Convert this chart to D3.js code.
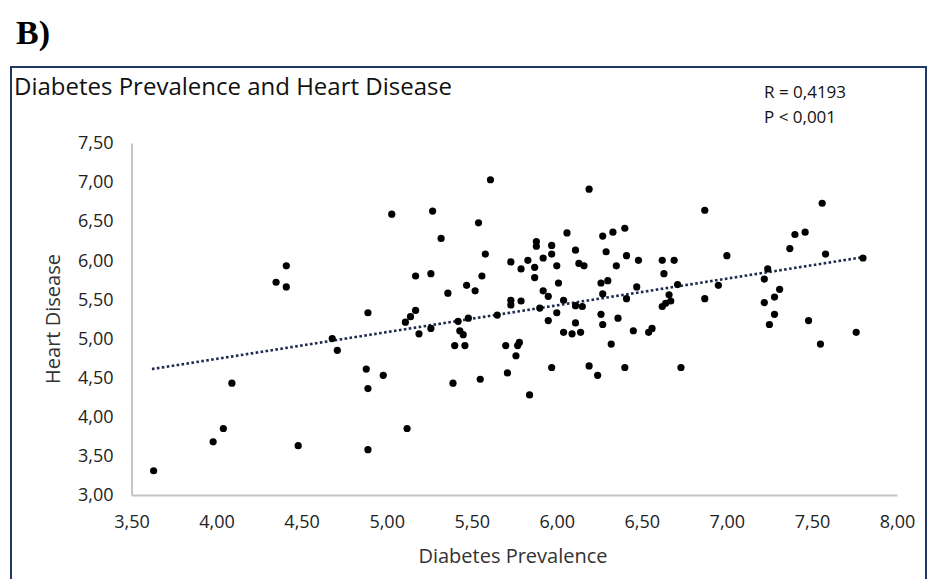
<!DOCTYPE html>
<html>
<head>
<meta charset="utf-8">
<script src="https://cdn.jsdelivr.net/npm/d3@7"></script>
<style>
  html, body { margin: 0; padding: 0; background: #ffffff; }
  svg { display: block; }
  text { font-family: "Open Sans", "Noto Sans", sans-serif; fill: #222; }
</style>
</head>
<body>
<svg id="chart" width="928" height="579"></svg>
<script>
// ---- data ----
const diabetesPrevalence = [
  3.63, 3.98, 4.04, 4.09, 4.48, 4.35, 4.41, 4.41, 4.68, 4.71,
  4.88, 4.89, 4.89, 4.89, 4.98, 5.03, 5.12, 5.11, 5.14, 5.17,
  5.17, 5.19, 5.26, 5.26, 5.27, 5.32, 5.36, 5.39, 5.40, 5.42,
  5.43, 5.45, 5.46, 5.47, 5.48, 5.52, 5.54, 5.55, 5.56, 5.58,
  5.61, 5.65, 5.70, 5.71, 5.73, 5.73, 5.73, 5.76, 5.77, 5.78,
  5.79, 5.79, 5.83, 5.84, 5.87, 5.87, 5.88, 5.88, 5.90, 5.92,
  5.92, 5.95, 5.95, 5.97, 5.97, 5.97, 6.00, 6.00, 6.01, 6.04,
  6.04, 6.06, 6.09, 6.11, 6.11, 6.11, 6.13, 6.14, 6.15, 6.16,
  6.19, 6.19, 6.24, 6.26, 6.26, 6.27, 6.27, 6.27, 6.29, 6.30,
  6.32, 6.33, 6.35, 6.36, 6.40, 6.40, 6.41, 6.41, 6.45, 6.47,
  6.48, 6.54, 6.56, 6.62, 6.62, 6.63, 6.64, 6.66, 6.67, 6.69,
  6.71, 6.73, 6.87, 6.87, 6.95, 7.00, 7.22, 7.22, 7.24, 7.25,
  7.28, 7.28, 7.31, 7.37, 7.40, 7.46, 7.48, 7.55, 7.56, 7.58,
  7.76, 7.80
];
const heartDisease = [
  3.31, 3.68, 3.85, 4.43, 3.63, 5.72, 5.93, 5.66, 5.00, 4.85,
  4.61, 4.36, 3.58, 5.33, 4.53, 6.59, 3.85, 5.21, 5.28, 5.36,
  5.80, 5.06, 5.83, 5.13, 6.63, 6.28, 5.58, 4.43, 4.91, 5.22,
  5.10, 5.05, 4.91, 5.68, 5.26, 5.61, 6.48, 4.48, 5.80, 6.08,
  7.03, 5.30, 4.91, 4.56, 5.98, 5.49, 5.43, 4.78, 4.91, 4.95,
  5.89, 5.48, 6.00, 4.28, 5.91, 5.78, 6.24, 6.18, 5.39, 6.03,
  5.61, 5.54, 5.23, 6.19, 6.08, 4.63, 5.93, 5.33, 5.71, 5.49,
  5.08, 6.35, 5.06, 6.13, 5.42, 5.20, 5.96, 5.08, 5.41, 5.93,
  6.91, 4.65, 4.53, 5.71, 5.31, 6.31, 5.57, 5.18, 6.11, 5.74,
  4.93, 6.36, 5.93, 5.26, 6.41, 4.63, 6.06, 5.51, 5.10, 5.66,
  6.00, 5.08, 5.13, 6.00, 5.41, 5.83, 5.45, 5.56, 5.48, 6.00,
  5.69, 4.63, 6.64, 5.51, 5.68, 6.06, 5.76, 5.46, 5.89, 5.18,
  5.53, 5.31, 5.63, 6.15, 6.33, 6.36, 5.23, 4.93, 6.73, 6.08,
  5.08, 6.03
];
// linear trendline (value at the first and last x)
const trendX = [3.62, 7.80];
const trendY = [4.61, 6.04];
const xTickValues = [3.5, 4.0, 4.5, 5.0, 5.5, 6.0, 6.5, 7.0, 7.5, 8.0];
const yTickValues = [3.0, 3.5, 4.0, 4.5, 5.0, 5.5, 6.0, 6.5, 7.0, 7.5];
const chartTitle = "Diabetes Prevalence and Heart Disease";
const xTitle = "Diabetes Prevalence";
const yTitle = "Heart Disease";
const panelLabel = "B)";
const statsLines = ["R = 0,4193", "P < 0,001"];

// ---- drawing ----
const svg = d3.select("#chart");
const locale = d3.formatLocale({decimal: ",", thousands: ".", grouping: [3], currency: ["", ""]});
const fmt = locale.format(".2f");

const x = d3.scaleLinear().domain([3.5, 8.0]).range([131.5, 897]);
const y = d3.scaleLinear().domain([3.0, 7.5]).range([495, 143]);

// panel label
svg.append("text")
  .attr("x", 16).attr("y", 44)
  .style("font-family", "'Liberation Serif', 'DejaVu Serif', serif")
  .style("font-weight", "bold")
  .style("font-size", "34px")
  .style("fill", "#000")
  .text(panelLabel);

// chart frame
svg.append("rect")
  .attr("x", 11).attr("y", 67)
  .attr("width", 915).attr("height", 560)
  .attr("fill", "none")
  .attr("stroke", "#1f3864")
  .attr("stroke-width", 2);

// chart title
svg.append("text")
  .attr("x", 14).attr("y", 95)
  .style("font-size", "24px")
  .style("fill", "#111")
  .text(chartTitle);

// stats
svg.selectAll("text.stats")
  .data(statsLines)
  .join("text")
  .attr("class", "stats")
  .attr("x", 764)
  .attr("y", (d, i) => 98 + i * 25)
  .style("font-size", "17px")
  .style("fill", "#111")
  .text(d => d);

// axes
const xAxis = d3.axisBottom(x)
  .tickValues(xTickValues)
  .tickFormat(fmt)
  .tickSize(0)
  .tickPadding(20);
const yAxis = d3.axisLeft(y)
  .tickValues(yTickValues)
  .tickFormat(fmt)
  .tickSize(0)
  .tickPadding(18);

const gx = svg.append("g").attr("transform", "translate(0,495)").call(xAxis);
const gy = svg.append("g").attr("transform", "translate(131.5,0)").call(yAxis);
[gx, gy].forEach(g => {
  g.select(".domain").attr("stroke", "#c4c4c4").attr("stroke-width", 2);
  g.selectAll("text")
    .style("font-family", "'Open Sans', sans-serif")
    .style("font-size", "18px")
    .style("fill", "#222");
});

// axis titles
svg.append("text")
  .attr("x", 513).attr("y", 563)
  .attr("text-anchor", "middle")
  .style("font-size", "20px")
  .style("fill", "#333")
  .text(xTitle);
svg.append("text")
  .attr("transform", "translate(60,319) rotate(-90)")
  .attr("text-anchor", "middle")
  .style("font-size", "20px")
  .style("fill", "#333")
  .text(yTitle);

// trendline
svg.append("line")
  .attr("x1", x(trendX[0])).attr("y1", y(trendY[0]))
  .attr("x2", x(trendX[1])).attr("y2", y(trendY[1]))
  .attr("stroke", "#1f2b4d")
  .attr("stroke-width", 2.6)
  .attr("stroke-dasharray", "2.6,2.4");

// points
const pts = diabetesPrevalence.map((d, i) => ({x: d, y: heartDisease[i]}));
svg.append("g").selectAll("circle")
  .data(pts)
  .join("circle")
  .attr("cx", d => x(d.x))
  .attr("cy", d => y(d.y))
  .attr("r", 3.6)
  .attr("fill", "#000");
</script>
</body>
</html>
